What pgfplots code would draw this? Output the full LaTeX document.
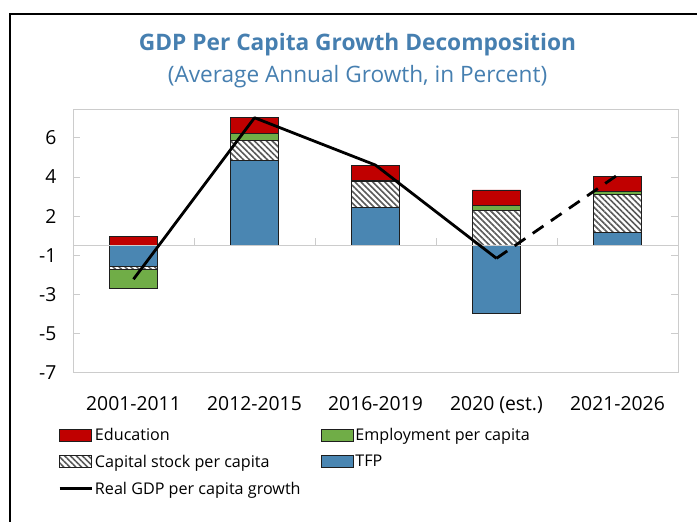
\documentclass[border=0pt]{standalone}
\usepackage{fontspec}
\setmainfont{Open Sans}
\usepackage{pgfplots}
\pgfplotsset{compat=1.18}
\usetikzlibrary{patterns.meta,calc}
\definecolor{edu}{RGB}{192,0,0}
\definecolor{emp}{RGB}{112,173,71}
\definecolor{tfp}{RGB}{74,134,178}
\definecolor{ttl}{RGB}{70,127,176}
\definecolor{frm}{RGB}{204,204,204}
\definecolor{barline}{RGB}{30,30,30}
\tikzset{
  hatchbar/.style={fill=white, draw=barline, line width=0.8bp,
    postaction={pattern={Lines[angle=-45,distance=4.2bp,line width=1.6bp]}, pattern color=black!65}},
  solidbar/.style={fill=#1, draw=barline, line width=0.8bp},
}
\pgfplotsset{
  common/.style={
    scale only axis, width=605bp, height=264bp,
    xmin=-0.5, xmax=4.5, ymin=-7.111, ymax=7.556,
  }
}
\begin{document}
\begin{tikzpicture}[x=1bp,y=1bp]
\begin{axis}[common,
  ybar stacked, bar width=0.4,
  axis line style={frm, line width=1bp},
  xtick={0,1,2,3,4},
  xticklabels={2001-2011,2012-2015,2016-2019,2020 (est.),2021-2026},
  x tick style={draw=none},
  ytick={-7.111,-4.933,-2.756,-0.578,1.6,3.778,5.956},
  yticklabels={-7,-5,-3,-1,2,4,6},
  y tick style={frm, line width=1bp},
  tick align=inside, major tick length=7bp,
  tick label style={font=\fontsize{19.4}{22}\selectfont, text=black},
  yticklabel style={xshift=-13bp},
  xticklabel style={yshift=-20bp},
  legend style={at={(-0.0248,-0.201)}, anchor=north west, draw=none, fill=none,
    inner sep=0pt, font=\fontsize{16.2}{19}\selectfont, row sep=9bp,
    /tikz/every even column/.append style={column sep=18bp}},
  legend columns=2, legend cell align=left,
]
\coordinate (SW) at (rel axis cs:0,0);
\draw[frm, line width=1bp] (axis cs:-0.5,0) -- (axis cs:4.5,0);
\draw[frm, line width=1bp] (axis cs:0.5,0) -- ++(0bp,7bp);
\draw[frm, line width=1bp] (axis cs:1.5,0) -- ++(0bp,7bp);
\draw[frm, line width=1bp] (axis cs:2.5,0) -- ++(0bp,7bp);
\draw[frm, line width=1bp] (axis cs:3.5,0) -- ++(0bp,7bp);
% legend (row-wise, two columns)
\addlegendimage{legend image code/.code={\draw[solidbar=edu] (0bp,-6bp) rectangle (32bp,6bp);}}
\addlegendentry{Education}
\addlegendimage{legend image code/.code={\draw[solidbar=emp] (0bp,-6bp) rectangle (32bp,6bp);}}
\addlegendentry{Employment per capita}
\addlegendimage{legend image code/.code={\draw[hatchbar] (0bp,-6bp) rectangle (32bp,6bp);}}
\addlegendentry{Capital stock per capita}
\addlegendimage{legend image code/.code={\draw[solidbar=tfp] (0bp,-6bp) rectangle (32bp,6bp);}}
\addlegendentry{TFP}
\addlegendimage{legend image code/.code={\draw[black, line width=2.8bp] (0bp,0bp) -- (32bp,0bp);}}
\addlegendentry{Real GDP per capita growth}
% stacked components (negatives stack downward from zero)
\addplot[solidbar=tfp, forget plot] coordinates {(0,-1.2) (1,4.72) (2,2.07) (3,-3.78) (4,0.7)};
\addplot[hatchbar, forget plot] coordinates {(0,-0.18) (1,1.11) (2,1.44) (3,1.92) (4,2.13)};
\addplot[solidbar=emp, forget plot] coordinates {(0,-1.02) (1,0.37) (2,0.09) (3,0.26) (4,0.17)};
\addplot[solidbar=edu, forget plot] coordinates {(0,0.5) (1,0.87) (2,0.83) (3,0.88) (4,0.8)};
\end{axis}
\begin{axis}[common, hide axis]
\addplot[black, line width=2.8bp, line join=round] coordinates {(0,-1.9) (1,7.07) (2,4.44) (3,-0.74)};
\addplot[black, line width=2.8bp, dash pattern=on 13bp off 9bp] coordinates {(3,-0.74) (4,3.89)};
\end{axis}
\pgfresetboundingbox
\path[use as bounding box] ($(SW)+(-73,-149)$) rectangle ++(697,522);
\begin{scope}[shift={($(SW)+(-73,-149)$)}]
\draw[line width=2bp] (10,0) -- (10,508) -- (697,508);
\node[font=\bfseries\fontsize{22.8}{26}\selectfont, text=ttl] at (357.5,477) {GDP Per Capita Growth Decomposition};
\node[font=\fontsize{22.7}{26}\selectfont, text=ttl] at (357.5,445) {(Average Annual Growth, in Percent)};
\end{scope}
\end{tikzpicture}
\end{document}
